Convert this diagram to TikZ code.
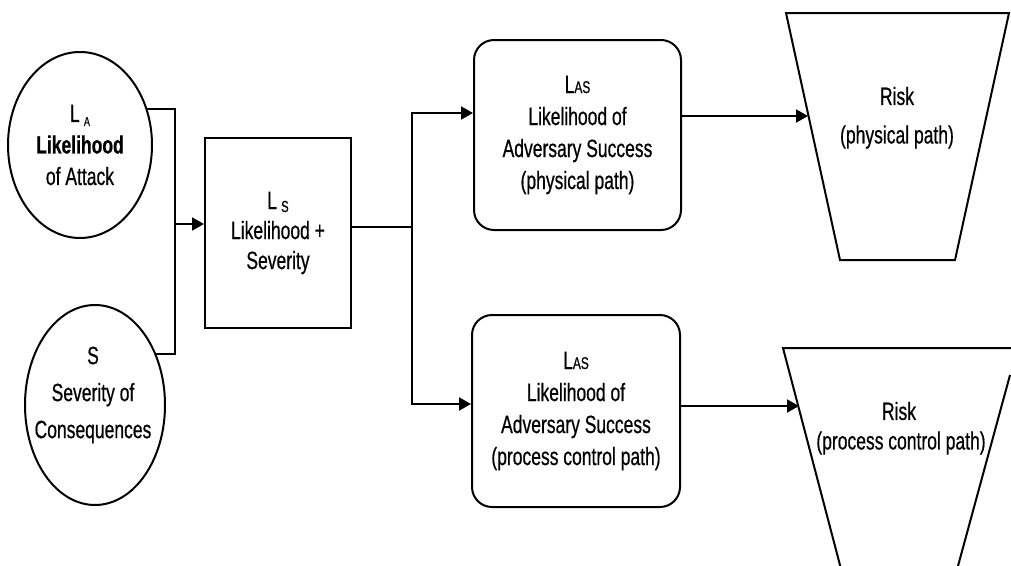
\documentclass[tikz,border=0pt]{standalone}
\usepackage{fontspec}
\setmainfont{Liberation Sans}[FakeStretch=0.70,FakeBold=0.6]
\usetikzlibrary{arrows.meta,shapes.geometric}
\begin{document}
\begin{tikzpicture}[x=1pt,y=-1pt,line width=2pt,
  txt/.style={font=\fontsize{25}{32}\selectfont, align=center, inner sep=0pt},
  arr/.style={-{Triangle[length=12pt,width=13pt]}},
  oval/.style={draw, ellipse, inner sep=0pt},
  plainbox/.style={draw, txt},
  roundbox/.style={draw, rounded corners=20pt, txt}]
\useasboundingbox (0,0) rectangle (1011,565);
\clip (0,0) rectangle (1011,565);

% left ellipses
\node[oval, minimum width=144pt, minimum height=186pt, txt, font=\fontsize{25}{31.5}\selectfont] (LA) at (80,145)
  {L\,\raisebox{-4pt}{\fontsize{13}{13}\selectfont A}\\{\bfseries Likelihood}\\of Attack};
\node[oval, minimum width=140pt, minimum height=200pt] (S) at (95,405) {};
\node[txt, font=\fontsize{25}{37}\selectfont] (St) at (93,395) {S\\Severity of\\Consequences};

% middle box
\node[plainbox, minimum width=146pt, minimum height=190pt, font=\fontsize{25}{30}\selectfont] (LS) at (278,233)
  {L\,\raisebox{-3pt}{\fontsize{16}{16}\selectfont S}\\Likelihood +\\Severity};

% rounded boxes
\node[roundbox, minimum width=207pt, minimum height=190pt] (B1) at (577.5,135)
  {L{\fontsize{17}{17}\selectfont AS}\\Likelihood of\\Adversary Success\\(physical path)};
\node[roundbox, minimum width=208pt, minimum height=192pt] (B2) at (576,411)
  {L{\fontsize{17}{17}\selectfont AS}\\Likelihood of\\Adversary Success\\(process control path)};

% trapezoids
\draw[line join=miter] (786,13) -- (1009,13) -- (955,260) -- (840,260) -- cycle;
\draw[line join=miter] (846,588) -- (783,348) -- (1030,348);
\draw (1010,375) -- (952,588);
\node[txt] (R1t) at (897,96) {Risk};
\node[txt] (R1p) at (897,137) {(physical path)};
\node[txt] (R2t) at (899,411) {Risk};
\node[txt] (R2p) at (901,443) {(process control path)};

% junction coordinates
\coordinate (jS) at (175,354);
\coordinate (jL) at (175,224);
\coordinate (jB) at (412,227);
\coordinate (jT) at (412,113);
\coordinate (jD) at (412,404);
\coordinate (R1in) at (808,116);
\coordinate (R2in) at (799,406);

% connectors
\draw (LA.28.6) -| (jS) -- (jS -| S.40.4);
\draw[arr] (jL) -- (jL -| LS.west);
\draw (LS.east |- jB) -- (jB);
\draw[arr] (jB) |- (jT -| B1.west);
\draw[arr] (jB) |- (jD -| B2.west);
\draw[arr] (B1.east |- R1in) -- (R1in);
\draw[arr] (B2.east |- R2in) -- (R2in);
\end{tikzpicture}
\end{document}
